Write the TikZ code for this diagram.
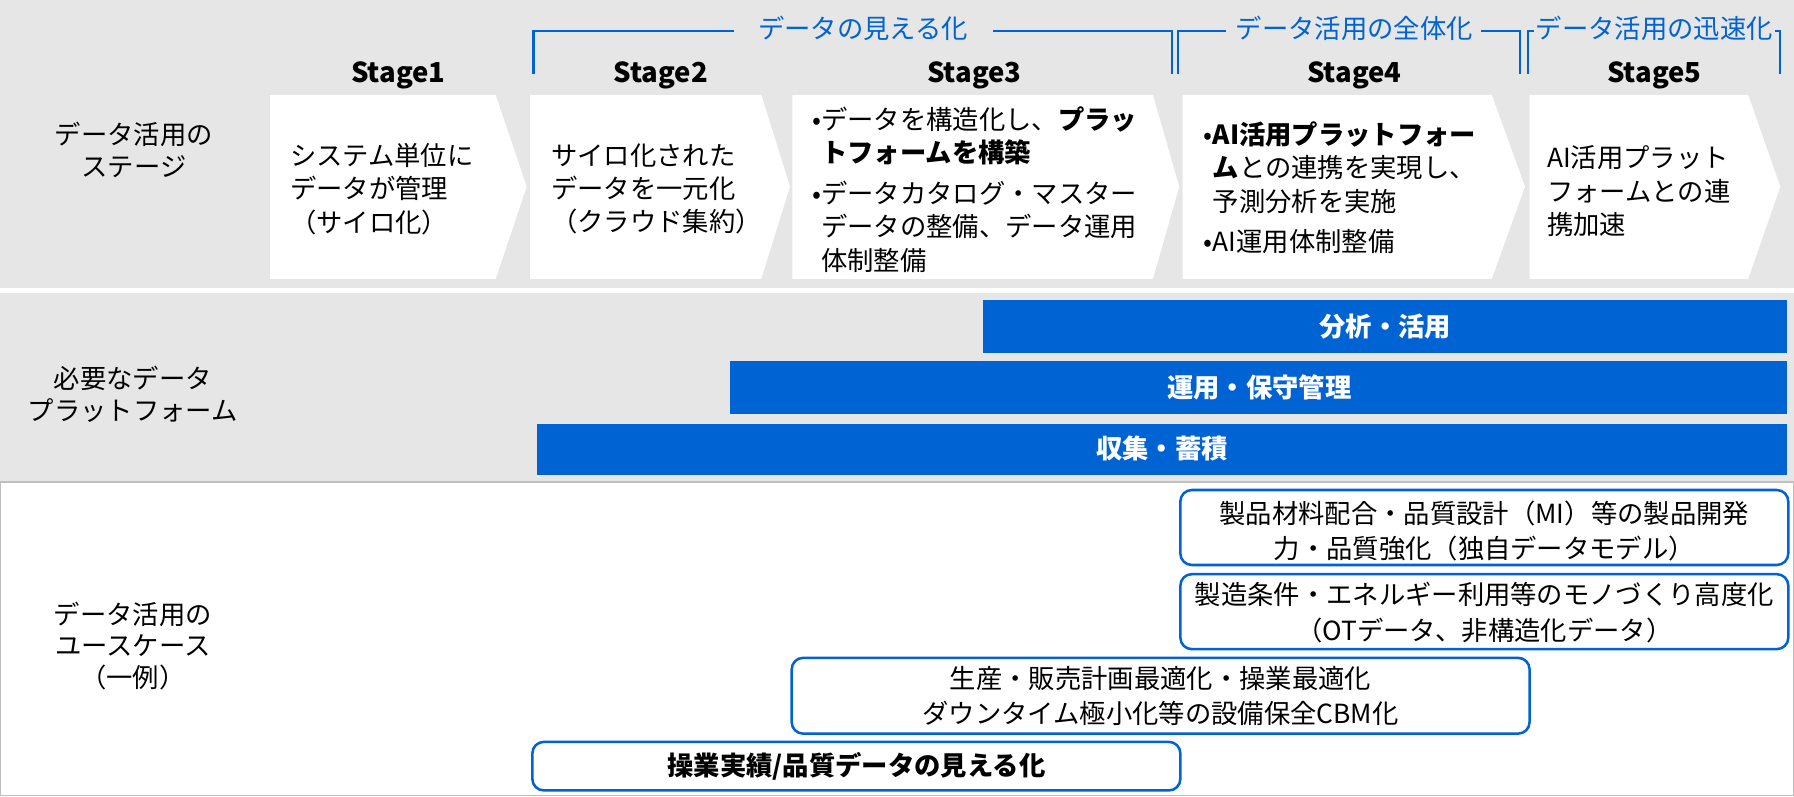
\documentclass[tikz,border=0pt]{standalone}
\usepackage{fontspec}
\setmainfont{Noto Sans CJK JP}
\definecolor{bandgray}{HTML}{E6E6E6}
\definecolor{dxblue}{HTML}{0063D3}
\definecolor{framegray}{HTML}{BFBFBF}
\newcommand{\bodysize}{\fontsize{11.5}{14.6}\selectfont}

\begin{document}
\begin{tikzpicture}[x=0.5pt, y=-0.5pt,
    stagetext/.style={anchor=west, align=left, inner sep=0pt, font=\bodysize},
    stagelabel/.style={font=\fontsize{12}{14}\selectfont\bfseries},
    sidelabel/.style={align=center, inner sep=0pt, font=\fontsize{11.5}{13.8}\selectfont},
    bartext/.style={text=white, inner sep=0pt, font=\bodysize\bfseries},
    usecase/.style={draw=dxblue, line width=1.1pt, rounded corners=5pt, fill=white},
    casetext/.style={align=center, inner sep=0pt, font=\fontsize{11.5}{15.5}\selectfont},
    bracket/.style={draw=dxblue, line width=0.9pt},
    brackettext/.style={text=dxblue, inner sep=0pt, font=\bodysize}]
  \useasboundingbox (0,0) rectangle (1567,695.3);
  % bands
  \fill[bandgray] (0,0) rectangle (1567,251.5);
  \fill[bandgray] (0,256) rectangle (1567,421);
  \draw[framegray, fill=white, line width=0.6pt] (0.5,421) rectangle (1566.5,694.8);

  % stage chevrons
  \foreach \xa/\xb/\xc in {236/433/460, 463/665/690, 692/1007/1030,
      1033/1303/1332, 1336/1527/1555}
    \fill[white] (\xa,83) -- (\xb,83) -- (\xc,163) -- (\xb,243.5) -- (\xa,243.5) -- cycle;

  \node[stagelabel] (s1) at (348,66) {Stage1};
  \node[stagelabel] (s2) at (577,66) {Stage2};
  \node[stagelabel] (s3) at (851,66) {Stage3};
  \node[stagelabel] (s4) at (1183,66) {Stage4};
  \node[stagelabel] (s5) at (1445,66) {Stage5};

  \node[stagetext] (t1) at (253,165) {システム単位に\\データが管理\\（サイロ化）};
  \node[stagetext] (t2) at (481,165) {サイロ化された\\データを一元化\\（クラウド集約）};
  \node[stagetext] (t3) at (709,165.5) {•データを構造化し、\textbf{プラッ}\\
    \phantom{•}\textbf{トフォームを構築}\\[3pt]
    •データカタログ・マスター\\
    \phantom{•}データの整備、データ運用\\
    \phantom{•}体制整備};
  \node[stagetext] (t4) at (1051,164) {•\textbf{AI活用プラットフォー}\\
    \phantom{•}\textbf{ム}との連携を実現し、\\
    \phantom{•}予測分析を実施\\[3pt]
    •AI運用体制整備};
  \node[stagetext] (t5) at (1351,167) {AI活用プラット\\フォームとの連\\携加速};

  % brackets
  \node[brackettext] (seen) at (754,25) {データの見える化};
  \draw[bracket] (466,65) -- (466,27) -- (641,27);
  \draw[bracket] (867,27) -- (1024,27) -- (1024,65);
  \node[brackettext] (whole) at (1183,25) {データ活用の全体化};
  \draw[bracket] (1029,65) -- (1029,27) -- (1071,27);
  \draw[bracket] (1294,27) -- (1328,27) -- (1328,65);
  \node[brackettext] (rapid) at (1445,25) {データ活用の迅速化};
  \draw[bracket] (1340,27) -- (1335,27) -- (1335,65);
  \draw[bracket] (1550,27) -- (1555,27) -- (1555,65);

  % side labels
  \node[sidelabel] (stagehead) at (117,131) {データ活用の\\ステージ};
  \node[sidelabel] (pfhead) at (116,344.5) {必要なデータ\\プラットフォーム};
  \node[sidelabel] (casehead) at (116,564) {データ活用の\\ユースケース\\（一例）};

  % platform bars
  \fill[dxblue] (858.5,262) rectangle (1561,308);
  \node[bartext] (ana) at (1210,285) {分析・活用};
  \fill[dxblue] (638,315.5) rectangle (1561,361.5);
  \node[bartext] (ops) at (1100,338.5) {運用・保守管理};
  \fill[dxblue] (469,370) rectangle (1561,414.5);
  \node[bartext] (col) at (1015,392) {収集・蓄積};

  % use cases
  \draw[usecase] (1031,428) rectangle (1562,493.5);
  \node[casetext] (mi) at (1296.5,464) {製品材料配合・品質設計（MI）等の製品開発\\力・品質強化（独自データモデル）};
  \draw[usecase] (1031,501.5) rectangle (1562,567);
  \node[casetext] (mono) at (1296.5,535) {製造条件・エネルギー利用等のモノづくり高度化\\（OTデータ、非構造化データ）};
  \draw[usecase] (691.5,574.6) rectangle (1336,640.8);
  \node[casetext] (cbm) at (1013.7,607.7) {生産・販売計画最適化・操業最適化\\ダウンタイム極小化等の設備保全CBM化};
  \draw[usecase] (465,648) rectangle (1031,690.4);
  \node[casetext, font=\bodysize\bfseries] (vis) at (748,669.5) {操業実績/品質データの見える化};
\end{tikzpicture}
\end{document}
